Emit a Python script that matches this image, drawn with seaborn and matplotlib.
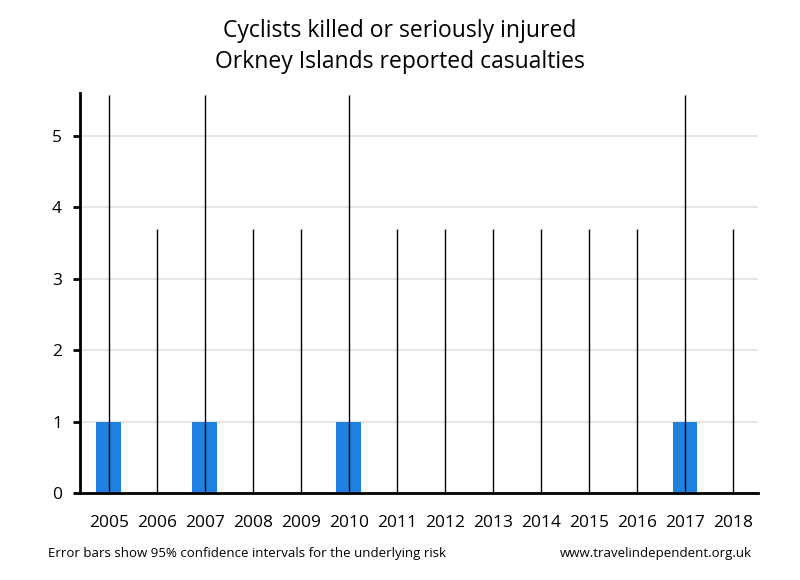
import numpy as np
import pandas as pd
import matplotlib
matplotlib.use("Agg")
import matplotlib.pyplot as plt
import seaborn as sns

# Casualty counts per year (Orkney Islands, cyclists KSI)
years = ["2005", "2006", "2007", "2008", "2009", "2010", "2011",
         "2012", "2013", "2014", "2015", "2016", "2017", "2018"]
casualties = [1, 0, 1, 0, 0, 1, 0, 0, 0, 0, 0, 0, 1, 0]
# 95% confidence interval bounds for underlying risk
ci_low = [0.03, 0, 0.03, 0, 0, 0.03, 0, 0, 0, 0, 0, 0, 0.03, 0]
ci_high = [5.57, 3.69, 5.57, 3.69, 3.69, 5.57, 3.69,
           3.69, 3.69, 3.69, 3.69, 3.69, 5.57, 3.69]

df = pd.DataFrame({"year": years, "casualties": casualties})

sns.set_style("white")
plt.rcParams['font.family'] = ['Open Sans', 'DejaVu Sans']
plt.rcParams['text.color'] = 'black'
plt.rcParams['xtick.color'] = 'black'
plt.rcParams['ytick.color'] = 'black'

fig = plt.figure(figsize=(8, 5.8), dpi=100)
ax = fig.add_axes([0.1, 0.15, 0.8475, 0.6897])

sns.barplot(data=df, x="year", y="casualties", color="#1f82e0",
            width=0.52, saturation=1, linewidth=0, ax=ax)

# error bars as plain lines, no caps
xpos = np.arange(len(years))
vals = np.array(casualties)
yerr = np.vstack([vals - np.array(ci_low), np.array(ci_high) - vals])
ax.errorbar(xpos, vals, yerr=yerr, fmt="none", ecolor="black",
            elinewidth=1, capsize=0, zorder=3)

ax.set_xlim(-0.6, 13.52)
ax.set_ylim(0, 5.6)
ax.set_yticks([0, 1, 2, 3, 4, 5])
ax.yaxis.grid(True, color="#e6e6e6", linewidth=1.5)
ax.set_axisbelow(True)

ax.set_xlabel("")
ax.set_ylabel("")
for side in ["top", "right"]:
    ax.spines[side].set_visible(False)
ax.spines["left"].set_linewidth(2)
ax.spines["bottom"].set_linewidth(2)
ax.spines["left"].set_color("black")
ax.spines["bottom"].set_color("black")

ax.tick_params(axis="y", left=True, length=5, width=2, labelsize=12.5, pad=8)
ax.tick_params(axis="x", bottom=False, labelsize=12.5, pad=12)

fig.text(0.5, 0.92, "Cyclists killed or seriously injured\nOrkney Islands reported casualties",
         ha="center", va="center", fontsize=16.5, linespacing=1.35)
fig.text(0.06, 0.045, "Error bars show 95% confidence intervals for the underlying risk",
         ha="left", va="center", fontsize=9.5)
fig.text(0.94, 0.045, "www.travelindependent.org.uk",
         ha="right", va="center", fontsize=9.5)

fig.savefig("out.png", dpi=100)
